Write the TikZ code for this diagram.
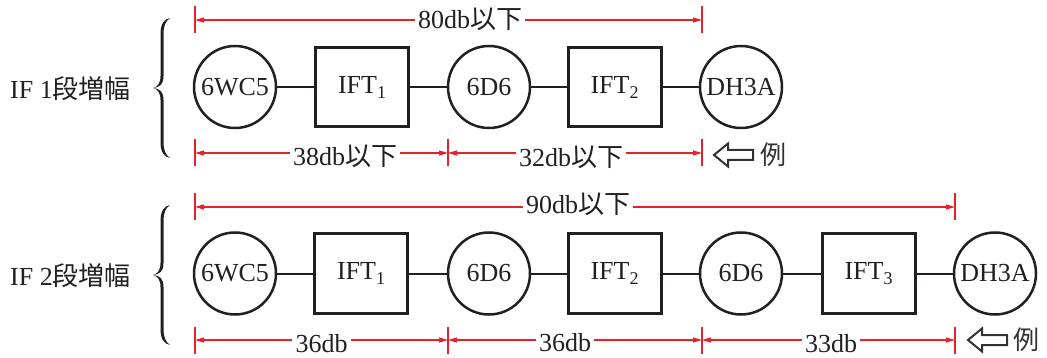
\documentclass[tikz,border=0pt]{standalone}
\usepackage{fontspec}
\setmainfont{Liberation Serif}
\newfontfamily\cjk{Noto Sans CJK JP}
\usetikzlibrary{arrows.meta}
\definecolor{ink}{RGB}{35,31,32}
\definecolor{dimred}{RGB}{232,32,42}
\definecolor{hint}{RGB}{50,50,50}
% lowered index for the IFT stage numbers
\newcommand\lowidx[1]{\raisebox{-5pt}{\fontsize{18}{18}\selectfont #1}}
\tikzset{
  % typographic curly brace, opening to the right
  curly/.pic={
    \fill[ink] (8,-70) .. controls (2,-69) and (-1.5,-64) .. (-1.5,-54)
      -- (-1.5,-12) .. controls (-1.5,-4) and (-5,-1) .. (-9,0)
      .. controls (-5,1) and (-1.5,4) .. (-1.5,12)
      -- (-1.5,54) .. controls (-1.5,64) and (2,69) .. (8,70)
      .. controls (3.5,67) and (1.5,62) .. (1.5,54)
      -- (1.5,12) .. controls (1.5,4) and (-2,0.6) .. (-9,0)
      .. controls (-2,-0.6) and (1.5,-4) .. (1.5,-12)
      -- (1.5,-54) .. controls (1.5,-62) and (3.5,-67) .. (8,-70) -- cycle;
  },
  % outlined arrow pointing left
  hollowarrow/.pic={
    \draw[hint, line width=2pt, line join=miter]
      (0,0) -- (14,-11.5) -- (14,-5) -- (39,-5) -- (39,5) -- (14,5) -- (14,11.5) -- cycle;
  }
}
\begin{document}
\begin{tikzpicture}[x=1pt,y=-1pt,
  every node/.style={font=\fontsize{26}{30}\selectfont, text=ink},
  tube/.style={draw=ink, circle, line width=2.5pt, minimum size=82pt, inner sep=0pt},
  ift/.style={draw=ink, rectangle, line width=3pt, minimum width=93pt, minimum height=79pt},
  wire/.style={draw=ink, line width=2pt},
  dim/.style={draw=dimred, line width=1.2pt, -{Triangle[length=9pt,width=5pt]}},
  tickmark/.style={draw=dimred, line width=1.5pt},
  dimlabel/.style={anchor=base, inner xsep=3pt, inner ysep=0pt},
  rowlabel/.style={anchor=base west, inner sep=0pt},
  example/.style={anchor=west, inner sep=0pt, text=hint},
]
\useasboundingbox (0,0) rectangle (1047,358);

% ---------- single IF stage ----------
\node[rowlabel] (lab1) at (10,99) {IF 1{\cjk 段増幅}};
\pic at (162,88) {curly};

\node[tube] (a1) at (235,87) {6WC5};
\node[ift]  (a2) at (362,87) {IFT\lowidx{1}};
\node[tube] (a3) at (489,87) {6D6};
\node[ift]  (a4) at (614.5,87) {IFT\lowidx{2}};
\node[tube] (a5) at (741,87) {DH3A};
\draw[wire] (a1) -- (a2);
\draw[wire] (a2) -- (a3);
\draw[wire] (a3) -- (a4);
\draw[wire] (a4) -- (a5);

\coordinate (p1) at (195,20);
\coordinate (p2) at (702,20);
\coordinate (q1) at (195,153);
\coordinate (q2) at (448,153);
\coordinate (q3) at (702,153);
\foreach \c in {p1,p2,q1,q2,q3}
  \draw[tickmark] ([yshift=13.5pt]\c) -- ([yshift=-13.5pt]\c);

\node[dimlabel] (d80) at (470,29) {80db{\cjk 以下}};
\draw[dim] (d80.west |- p1) -- (p1);
\draw[dim] (d80.east |- p2) -- (p2);

\node[dimlabel] (d38) at (345,166) {38db{\cjk 以下}};
\draw[dim] (d38.west |- q1) -- (q1);
\draw[dim] (d38.east |- q2) -- (q2);

\node[dimlabel] (d32) at (571,167) {32db{\cjk 以下}};
\draw[dim] (d32.west |- q2) -- (q2);
\draw[dim] (d32.east |- q3) -- (q3);

\pic at (714,155) {hollowarrow};
\node[example] (ex1) at (760,155) {\cjk 例};

% ---------- two IF stages ----------
\node[rowlabel] (lab2) at (10,285) {IF 2{\cjk 段増幅}};
\pic at (162,275) {curly};

\node[tube] (b1) at (235,273.5) {6WC5};
\node[ift]  (b2) at (361,273.5) {IFT\lowidx{1}};
\node[tube] (b3) at (489,273.5) {6D6};
\node[ift]  (b4) at (614.5,273.5) {IFT\lowidx{2}};
\node[tube] (b5) at (741,273.5) {6D6};
\node[ift]  (b6) at (868.5,273.5) {IFT\lowidx{3}};
\node[tube] (b7) at (995,273.5) {DH3A};
\draw[wire] (b1) -- (b2);
\draw[wire] (b2) -- (b3);
\draw[wire] (b3) -- (b4);
\draw[wire] (b4) -- (b5);
\draw[wire] (b5) -- (b6);
\draw[wire] (b6) -- (b7);

\coordinate (r1) at (195,207);
\coordinate (r2) at (955,207);
\coordinate (s1) at (195,340);
\coordinate (s2) at (448,340);
\coordinate (s3) at (702,340);
\coordinate (s4) at (955,340);
\foreach \c in {r1,r2,s1,s2,s3,s4}
  \draw[tickmark] ([yshift=13.5pt]\c) -- ([yshift=-13.5pt]\c);

\node[dimlabel] (d90) at (578,214) {90db{\cjk 以下}};
\draw[dim] (d90.west |- r1) -- (r1);
\draw[dim] (d90.east |- r2) -- (r2);

\node[dimlabel] (e1) at (321.5,352) {36db};
\draw[dim] (e1.west |- s1) -- (s1);
\draw[dim] (e1.east |- s2) -- (s2);

\node[dimlabel] (e2) at (565,351) {36db};
\draw[dim] (e2.west |- s2) -- (s2);
\draw[dim] (e2.east |- s3) -- (s3);

\node[dimlabel] (e3) at (831,352) {33db};
\draw[dim] (e3.west |- s3) -- (s3);
\draw[dim] (e3.east |- s4) -- (s4);

\pic at (968,340) {hollowarrow};
\node[example] (ex2) at (1013,340) {\cjk 例};
\end{tikzpicture}
\end{document}
